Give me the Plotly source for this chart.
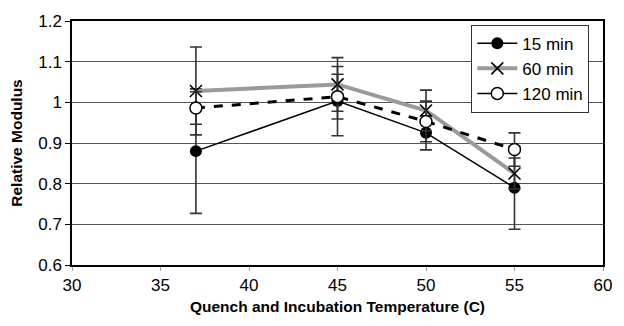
import plotly.graph_objects as go

temps = [37, 45, 50, 55]
m15 = [0.88, 1.003, 0.925, 0.79]
m15_err = [0.153, 0.085, 0.042, 0.102]
m60 = [1.028, 1.044, 0.98, 0.825]
m60_err = [0.108, 0.066, 0.05, 0.038]
m120 = [0.986, 1.014, 0.953, 0.884]
m120_err = [0.04, 0.055, 0.05, 0.041]
series_names = ["15 min", "60 min", "120 min"]

FONT = "Liberation Sans, Arial, sans-serif"
ebar = dict(type="data", thickness=1.6, width=6, color="#333333")

st15 = dict(line=dict(color="black", width=1.5),
            marker=dict(symbol="circle", size=12, color="black"))
st60 = dict(line=dict(color="#9a9a9a", width=4),
            marker=dict(symbol="x-thin-open", size=12, color="black",
                        line=dict(color="black", width=1.6)))
st120_marker = dict(symbol="circle", size=12, color="white",
                    line=dict(color="black", width=1.5))

fig = go.Figure()
fig.add_trace(go.Scatter(
    x=temps, y=m15, name=series_names[0], mode="lines+markers",
    showlegend=False, error_y=dict(array=m15_err, **ebar), **st15))
fig.add_trace(go.Scatter(
    x=temps, y=m60, name=series_names[1], mode="lines+markers",
    showlegend=False, error_y=dict(array=m60_err, **ebar), **st60))
fig.add_trace(go.Scatter(
    x=temps, y=m120, name=series_names[2], mode="lines+markers",
    showlegend=False,
    line=dict(color="black", width=3, dash="dash"), marker=st120_marker,
    error_y=dict(array=m120_err, **ebar)))

# legend entries (the original legend shows 120 min with a thin solid line)
fig.add_trace(go.Scatter(x=[None], y=[None], name=series_names[0],
                         mode="lines+markers", legendgroup="a", **st15))
fig.add_trace(go.Scatter(x=[None], y=[None], name=series_names[1],
                         mode="lines+markers", legendgroup="b", **st60))
fig.add_trace(go.Scatter(x=[None], y=[None], name=series_names[2],
                         mode="lines+markers", legendgroup="c",
                         line=dict(color="black", width=1.5),
                         marker=st120_marker))

fig.update_layout(
    width=624, height=326,
    margin=dict(l=72, r=12, t=16, b=61),
    paper_bgcolor="white", plot_bgcolor="white",
    font=dict(family=FONT, size=17, color="black"),
    showlegend=True,
    legend=dict(x=0.752, y=0.985, xanchor="left", yanchor="top",
                bgcolor="white", bordercolor="#333333", borderwidth=1,
                font=dict(size=17), tracegroupgap=0, itemwidth=40),
)
fig.update_xaxes(
    range=[30, 60], tickvals=[30, 35, 40, 45, 50, 55, 60],
    showgrid=False, zeroline=False,
    showline=True, linecolor="black", linewidth=1.5, mirror=True,
    ticks="outside", ticklen=4, tickcolor="#999999",
    tickfont=dict(size=17),
    title=dict(text="<b>Quench and Incubation Temperature (C)</b>",
               font=dict(size=15.5), standoff=7),
)
fig.update_yaxes(
    range=[0.6, 1.2], tickvals=[0.6, 0.7, 0.8, 0.9, 1.0, 1.1, 1.2],
    ticktext=["0.6", "0.7", "0.8", "0.9", "1", "1.1", "1.2"],
    showgrid=True, gridcolor="#555555", gridwidth=1, zeroline=False,
    showline=True, linecolor="black", linewidth=1.5, mirror=True,
    ticks="outside", ticklen=5, tickcolor="black",
    tickfont=dict(size=17),
    title=dict(text="<b>Relative Modulus</b>", font=dict(size=15.5), standoff=12),
)

fig.write_html("out.html")
